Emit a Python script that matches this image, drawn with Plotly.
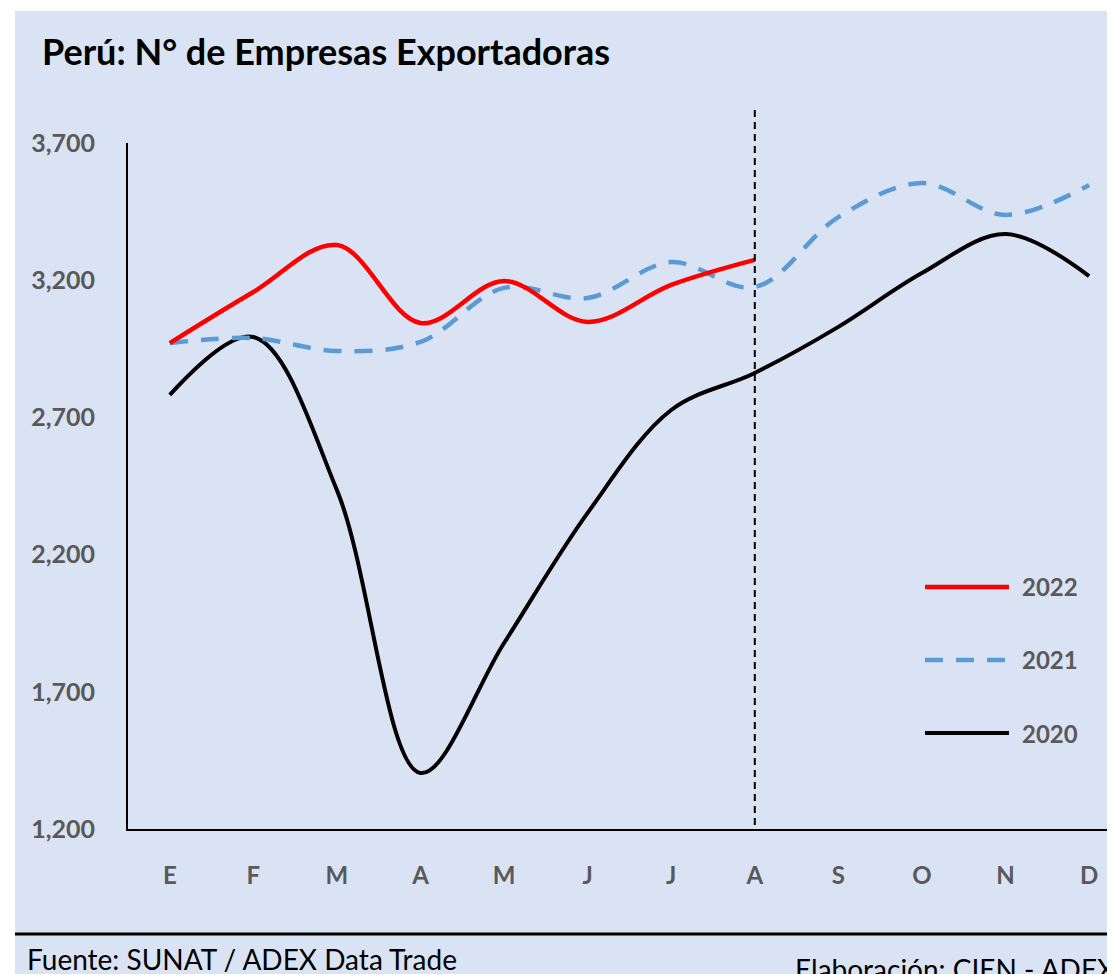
import plotly.graph_objects as go

# datos
months = ["E", "F", "M", "A", "M", "J", "J", "A", "S", "O", "N", "D"]
emp_2022 = [2971, 3157, 3328, 3044, 3197, 3048, 3183, 3274]
emp_2021 = [2971, 2989, 2942, 2975, 3172, 3135, 3266, 3175, 3430, 3554, 3438, 3547]
emp_2020 = [2782, 2993, 2435, 1404, 1878, 2352, 2727, 2862, 3030, 3226, 3368, 3215]
y_ticks = [1200, 1700, 2200, 2700, 3200, 3700]

GREY = "#595959"
BG = "#DAE3F3"
FONT = "Lato"

# la pagina tiene 8px de margen en el body
W, H = 1115, 966

series = [
    ("2022", emp_2022, dict(color="#FF0000", width=4.5)),
    ("2021", emp_2021, dict(color="#5B9BD5", width=4.5, dash="18px,13px")),
    ("2020", emp_2020, dict(color="#000000", width=4)),
]

fig = go.Figure()

# 2020 abajo, 2022 arriba
for name, vals, line in reversed(series):
    fig.add_trace(go.Scatter(
        x=list(range(len(vals))),
        y=vals,
        name=name,
        mode="lines",
        line=dict(shape="spline", smoothing=1, **line),
        showlegend=False,
    ))

# fondo azul claro
fig.add_shape(type="rect", xref="paper", yref="paper",
              x0=-0.1145, x1=1.02, y0=-0.25, y1=1.1924,
              fillcolor=BG, line_width=0, layer="below")

# linea inferior negra
fig.add_shape(type="line", xref="paper", yref="paper",
              x0=-0.1145, x1=1.02, y0=-0.1531, y1=-0.1531,
              line=dict(color="black", width=3))

# linea vertical punteada en el ultimo mes de 2022
fig.add_shape(type="line", xref="x", yref="paper",
              x0=len(emp_2022) - 1, x1=len(emp_2022) - 1, y0=0.006, y1=1.0554,
              line=dict(color="black", width=2, dash="7px,5px"))

# leyenda manual
leg_y = [0.3528, 0.2464, 0.1399]
for (name, vals, line), ly in zip(series, leg_y):
    fig.add_shape(type="line", xref="paper", yref="paper",
                  x0=0.8075, x1=0.8926, y0=ly, y1=ly, line=line)
    fig.add_annotation(xref="paper", yref="paper", x=0.9037, y=ly,
                       text=name, showarrow=False, xanchor="left", yanchor="middle",
                       font=dict(family=FONT, size=24, color=GREY, weight="bold"))

# pie
fig.add_annotation(xref="paper", yref="paper", x=-0.1044, y=-0.190,
                   text="Fuente: SUNAT / ADEX Data Trade", showarrow=False,
                   xanchor="left", yanchor="middle",
                   font=dict(family=FONT, size=28, color="black"))
fig.add_annotation(xref="paper", yref="paper", x=0.6738, y=-0.204,
                   text="Elaboración: CIEN - ADEX", showarrow=False,
                   xanchor="left", yanchor="middle",
                   font=dict(family=FONT, size=28, color="black"))

fig.update_layout(
    width=W,
    height=H,
    margin=dict(l=120, r=8, t=135, b=145),
    paper_bgcolor="white",
    plot_bgcolor="rgba(0,0,0,0)",
    title=dict(
        text="Perú: N° de Empresas Exportadoras",
        x=34 / W, xanchor="left", xref="container",
        y=1 - 44 / H, yanchor="middle", yref="container",
        font=dict(family=FONT, size=36, color="black", weight="bold"),
    ),
    font=dict(family=FONT),
)

fig.update_xaxes(
    range=[-0.5, 11.31],
    tickvals=list(range(len(months))),
    ticktext=months,
    showline=True, linecolor="black", linewidth=2,
    showgrid=False, zeroline=False, ticks="",
    ticklabelstandoff=24,
    tickfont=dict(family=FONT, size=24, color=GREY, weight="bold"),
)
fig.update_yaxes(
    range=[1200, 3700],
    tickvals=y_ticks,
    tickformat=",",
    showline=True, linecolor="black", linewidth=2,
    showgrid=False, zeroline=False, ticks="",
    ticklabelstandoff=26,
    tickfont=dict(family=FONT, size=25, color=GREY, weight="bold"),
)

fig.write_html("out.html")
